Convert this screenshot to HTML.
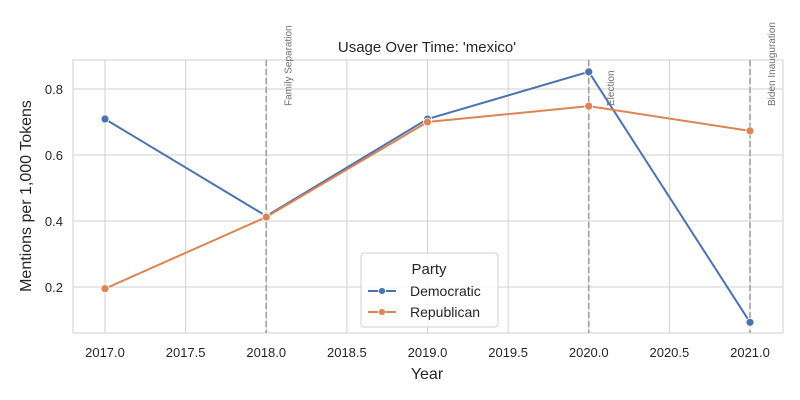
<!DOCTYPE html>
<html><head><meta charset="utf-8"><style>body{margin:0;background:#fff}svg{display:block;font-family:"Liberation Sans",sans-serif}</style></head>
<body>
<svg id="chart" width="800" height="400">
<rect x="73" y="60" width="710" height="273" fill="#fff" stroke="#d0d0d0" stroke-width="1"/>
<g id="grid"></g><g id="events"></g><g id="series"></g><g id="ticks"></g>
<text x="427" y="52" text-anchor="middle" font-size="15" fill="#262626">Usage Over Time: 'mexico'</text>
<text x="427" y="379" text-anchor="middle" font-size="16" fill="#262626">Year</text>
<text transform="translate(31,196) rotate(-90)" text-anchor="middle" font-size="16" fill="#262626">Mentions per 1,000 Tokens</text>
<g>
<rect x="361" y="253" width="137" height="74" rx="3" fill="#fff" fill-opacity="0.85" stroke="#d0d0d0"/>
<text x="429" y="274" text-anchor="middle" font-size="15" fill="#262626">Party</text>
<g><line x1="368" y1="291" x2="396" y2="291" stroke="#4c72b0" stroke-width="2"/><circle cx="382" cy="291" r="3.5" fill="#4c72b0" stroke="#fff" stroke-width="0.8"/><text x="410" y="296" font-size="14" fill="#262626">Democratic</text></g>
<g><line x1="368" y1="312" x2="396" y2="312" stroke="#dd8452" stroke-width="2"/><circle cx="382" cy="312" r="3.5" fill="#dd8452" stroke="#fff" stroke-width="0.8"/><text x="410" y="317" font-size="14" fill="#262626">Republican</text></g>
</g>
</svg>
<script>
const years=[2017,2018,2019,2020,2021];
const democratic=[0.709,0.415,0.709,0.852,0.093];
const republican=[0.195,0.412,0.700,0.748,0.673];
const xTicks=[2017,2017.5,2018,2018.5,2019,2019.5,2020,2020.5,2021];
const yTicks=[0.2,0.4,0.6,0.8];
const eventYears=[2018,2020,2021];
const eventLabels=["Family Separation","Election","Biden Inauguration"];
const X=v=>105+(v-2017)*161.25, Y=v=>287-(v-0.2)*330;
const NS="http://www.w3.org/2000/svg";
function mk(p,t,a){const e=document.createElementNS(NS,t);for(const k in a)e.setAttribute(k,a[k]);document.getElementById(p).appendChild(e);return e;}
xTicks.forEach(t=>{const l=mk('grid','line',{x1:X(t),x2:X(t),y1:60,y2:333,stroke:'#d0d0d0'});


const tx=mk('ticks','text',{x:X(t),y:357,'text-anchor':'middle','font-size':13,fill:'#262626'});tx.textContent=t.toFixed(1);

});
yTicks.forEach(t=>{const l=mk('grid','line',{x1:73,x2:783,y1:Y(t),y2:Y(t),stroke:'#d0d0d0'});


const tx=mk('ticks','text',{x:63,y:Y(t)+5,'text-anchor':'end','font-size':13,fill:'#262626'});tx.textContent=t.toFixed(1);

});
eventYears.forEach((y,i)=>{const l=mk('events','line',{x1:X(y),x2:X(y),y1:60,y2:333,stroke:'#a0a0a0','stroke-width':1.6,'stroke-dasharray':'6,3'});


const tx=mk('events','text',{transform:`translate(${X(y)+25},106) rotate(-90)`,'font-size':10,fill:'#707070'});tx.textContent=eventLabels[i];

});
[[democratic,'#4c72b0','democratic'],[republican,'#dd8452','republican']].forEach(([d,c,n])=>{
const p=mk('series','polyline',{points:years.map((y,i)=>X(y)+','+Y(d[i])).join(' '),fill:'none',stroke:c,'stroke-width':2});


years.forEach((y,i)=>{const m=mk('series','circle',{cx:X(y),cy:Y(d[i]),r:4,fill:c,stroke:'#fff','stroke-width':0.8});

});});
</script>
</body></html>
